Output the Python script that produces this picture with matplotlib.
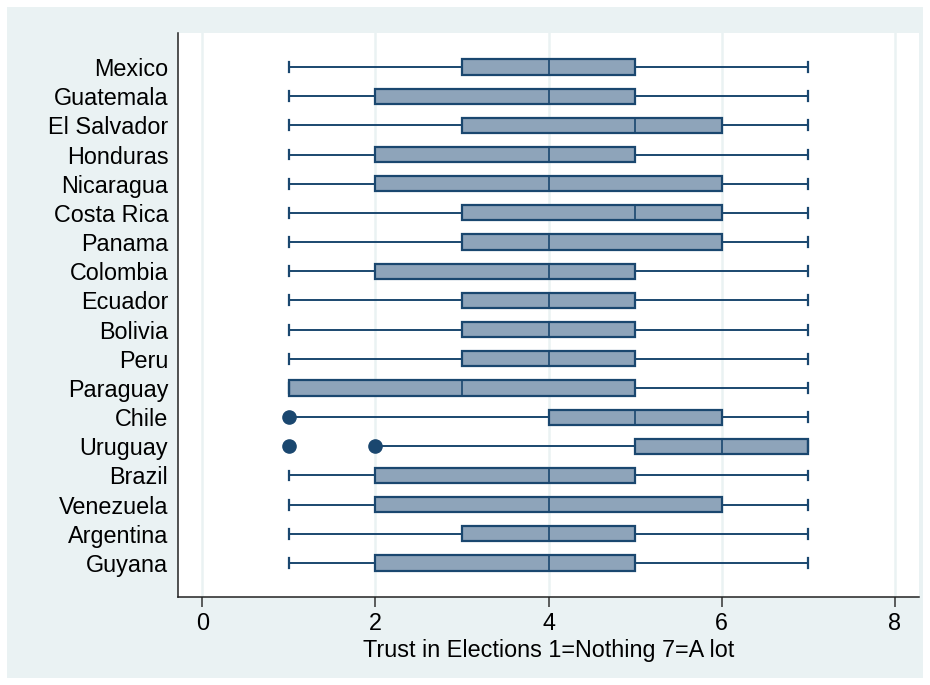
import matplotlib
matplotlib.use('Agg')
import matplotlib.pyplot as plt
from matplotlib.patches import Rectangle

# Box statistics (top to bottom)
countries = ['Mexico', 'Guatemala', 'El Salvador', 'Honduras', 'Nicaragua',
             'Costa Rica', 'Panama', 'Colombia', 'Ecuador', 'Bolivia', 'Peru',
             'Paraguay', 'Chile', 'Uruguay', 'Brazil', 'Venezuela',
             'Argentina', 'Guyana']
q1 = [3, 2, 3, 2, 2, 3, 3, 2, 3, 3, 3, 1, 4, 5, 2, 2, 3, 2]
med = [4, 4, 5, 4, 4, 5, 4, 4, 4, 4, 4, 3, 5, 6, 4, 4, 4, 4]
q3 = [5, 5, 6, 5, 6, 6, 6, 5, 5, 5, 5, 5, 6, 7, 5, 6, 5, 5]
whislo = [1, 1, 1, 1, 1, 1, 1, 1, 1, 1, 1, 1, 1, 2, 1, 1, 1, 1]
whishi = [7, 7, 7, 7, 7, 7, 7, 7, 7, 7, 7, 7, 7, 7, 7, 7, 7, 7]
fliers = [[], [], [], [], [], [], [], [], [], [], [], [], [1], [1, 2],
          [], [], [], []]

xticks = [0, 2, 4, 6, 8]
xlabel = 'Trust in Elections 1=Nothing 7=A lot'

NAVY = '#1a476f'
FILL = '#8ea4ba'
BG = '#eaf2f3'
FS = 16.8

plt.rcParams['font.family'] = ['Liberation Sans', 'DejaVu Sans']

fig = plt.figure(figsize=(9.3, 6.85), dpi=100)
fig.patch.set_facecolor('white')
fig.patches.append(Rectangle((7 / 930, 7 / 685), 916 / 930, 671 / 685,
                             transform=fig.transFigure, facecolor=BG,
                             edgecolor='none', zorder=-10))

ax = fig.add_axes([178 / 930, 1 - 597 / 685, 741 / 930, 564 / 685])
ax.set_facecolor('white')

stats = []
for i, name in enumerate(countries):
    stats.append(dict(label=name, q1=q1[i], med=med[i], q3=q3[i],
                      whislo=whislo[i], whishi=whishi[i], fliers=fliers[i]))

pos = list(range(len(countries), 0, -1))
ax.bxp(stats, positions=pos, vert=False, widths=0.52, patch_artist=True,
       showfliers=True,
       boxprops=dict(facecolor=FILL, edgecolor=NAVY, linewidth=1.6),
       medianprops=dict(color=NAVY, linewidth=1.2),
       whiskerprops=dict(color=NAVY, linewidth=1.4),
       capprops=dict(color=NAVY, linewidth=1.6),
       capwidths=0.34,
       flierprops=dict(marker='o', markerfacecolor=NAVY, markeredgecolor=NAVY,
                       markersize=9.5))

ax.set_xlim(-0.28, 8.28)
ax.set_ylim(1 - 1.165, len(countries) + 1.165)
ax.set_xticks(xticks)
ax.set_xticklabels([str(t) for t in xticks], fontsize=FS)
ax.set_yticks(pos)
ax.set_yticklabels(countries, fontsize=FS)
ax.tick_params(axis='y', length=0, pad=7)
ax.tick_params(axis='x', length=7, width=1.1, color='#333333', pad=4)
ax.set_xlabel(xlabel, fontsize=FS, labelpad=3)

ax.grid(axis='x', color=BG, linewidth=1.8, zorder=0)
ax.set_axisbelow(True)
for s in ['top', 'right']:
    ax.spines[s].set_visible(False)
for s in ['left', 'bottom']:
    ax.spines[s].set_color('#222222')
    ax.spines[s].set_linewidth(1.1)

fig.savefig('out.png', dpi=100, facecolor=fig.get_facecolor())
